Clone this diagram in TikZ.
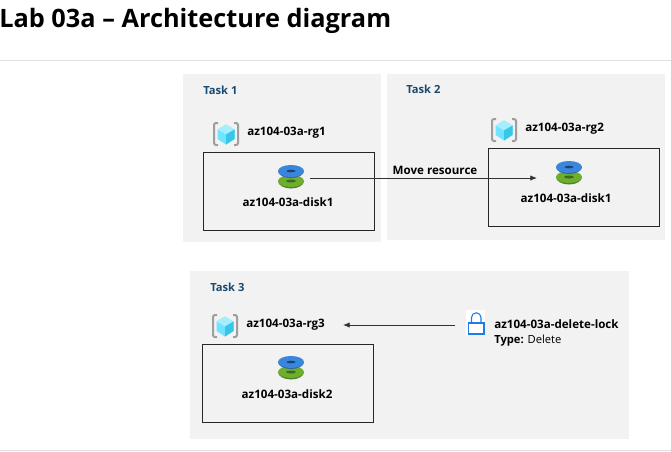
\documentclass[tikz,border=0pt]{standalone}
\usepackage{fontspec}
\setmainfont{Open Sans}
\usetikzlibrary{arrows.meta, positioning, calc}

\definecolor{panelgray}{HTML}{F2F2F2}
\definecolor{taskblue}{HTML}{1B4A70}
\definecolor{diskblue}{HTML}{3A86DC}
\definecolor{diskgreen}{HTML}{6DAE2E}
\definecolor{lockblue}{HTML}{1F7BEA}
\definecolor{cubetop}{HTML}{A4EEFF}
\definecolor{cubeleft}{HTML}{6FE3FF}
\definecolor{cuberight}{HTML}{38C6E8}

\begin{document}
\begin{tikzpicture}[
  x=0.75pt, y=-0.75pt,
  panel/.style   = {rectangle, fill=panelgray, inner sep=0pt, anchor=north west},
  resbox/.style  = {draw=black!85, rectangle, inner sep=0pt, anchor=north west,
                    line width=0.7pt,
                    minimum width=128pt, minimum height=58.5pt},
  tasklbl/.style = {font=\fontsize{8.4}{10}\selectfont\bfseries,
                    text=taskblue, inner sep=0pt, anchor=west},
  reslbl/.style  = {font=\fontsize{8.7}{10}\selectfont\bfseries,
                    text=black, inner sep=0pt},
  arr/.style     = {-{Latex[length=5pt,width=4pt]}, line width=0.6pt, draw=black!80},
  rule/.style    = {draw=black!12, line width=0.7pt},
  disk/.pic      = {
    \fill[diskgreen!75!black] (-13,4) arc[start angle=180, end angle=0, x radius=13, y radius=7.5]
       -- (13,4) -- cycle;
    \fill[diskgreen] (0,4) ellipse[x radius=13, y radius=6];
    \fill[diskgreen!60!black] (0,4) ellipse[x radius=5, y radius=1.5];
    \fill[diskblue!75!black] (-13,-6) arc[start angle=180, end angle=0, x radius=13, y radius=7]
       -- (13,-6) -- cycle;
    \fill[diskblue] (0,-6) ellipse[x radius=13, y radius=6];
    \fill[diskblue!50!black] (0,-6) ellipse[x radius=4.5, y radius=1.3];
  },
  rgicon/.pic    = {
    \draw[black!38, line width=1.5pt, rounded corners=1.5pt]
      (-8,-11) -- (-12,-11) -- (-12,11) -- (-8,11);
    \draw[black!38, line width=1.5pt, rounded corners=1.5pt]
      (8,-11) -- (12,-11) -- (12,11) -- (8,11);
    \fill[cubeleft] (0,-9.5) -- (8.5,-4.5) -- (8.5,5) -- (0,10.5) -- (-8.5,5) -- (-8.5,-4.5) -- cycle;
    \fill[cubetop] (0,-9.5) -- (8.5,-4.5) -- (0,0.5) -- (-8.5,-4.5) -- cycle;
    \fill[cuberight] (0,0.5) -- (8.5,-4.5) -- (8.5,5) -- (0,10.5) -- cycle;
  }
]
\useasboundingbox (0,0) rectangle (671,451);

% header
\node[font=\fontsize{19}{22}\selectfont\bfseries, inner sep=0pt, anchor=west]
  (title) at (-1,21) {Lab 03a – Architecture diagram};
\coordinate (rule_tl) at (0,60);
\coordinate (rule_tr) at (671,60);
\coordinate (rule_bl) at (0,450);
\coordinate (rule_br) at (671,450);
\draw[rule] (rule_tl) -- (rule_tr);
\draw[rule] (rule_bl) -- (rule_br);

% panels
\node[panel, minimum width=148.5pt, minimum height=126pt] (panel1) at (183,74) {};
\node[panel, minimum width=208.5pt, minimum height=124.5pt] (panel2) at (387,74) {};
\node[panel, minimum width=329.25pt, minimum height=126pt] (panel3) at (190,271) {};

\node[tasklbl] (task1) at (203,90) {Task 1};
\node[tasklbl] (task2) at (406,89) {Task 2};
\node[tasklbl] (task3) at (210,287) {Task 3};

% resource groups
\pic at (226,134) {rgicon};
\pic at (504,130) {rgicon};
\pic at (225,326) {rgicon};
\node[reslbl, anchor=west] (rg1) at (247,133) {az104-03a-rg1};
\node[reslbl, anchor=west] (rg2) at (525,129) {az104-03a-rg2};
\node[reslbl, anchor=west] (rg3) at (246,325) {az104-03a-rg3};

% boxes
\node[resbox] (box1) at (203,152) {};
\node[resbox] (box2) at (488,148) {};
\node[resbox] (box3) at (202,344) {};

% disks
\pic at (291,177) {disk};
\pic at (569,173) {disk};
\pic at (291,368) {disk};
\node[reslbl] (disk1) at (288,202) {az104-03a-disk1};
\node[reslbl] (disk1b) at (566,198) {az104-03a-disk1};
\node[reslbl] (disk2) at (287,394) {az104-03a-disk2};

\coordinate (move_from) at (310,178);
\coordinate (move_to) at (537,178);
\draw[arr] (move_from) -- (move_to);
\node[reslbl] (move) at (435,170) {Move resource};

% lock
\node[fill=white, inner sep=0pt, minimum width=14.5pt, minimum height=19pt] (lock) at (475.5,322.5) {};
\draw[lockblue, line width=0.8pt] (468.5,323) rectangle (484,334);
\draw[lockblue, line width=0.8pt] (471.5,323) -- (471.5,317.5) arc[start angle=180, end angle=360, radius=4.75] -- (481,323);
\node[reslbl, anchor=west] (lockname) at (494,324) {az104-03a-delete-lock};
\node[font=\fontsize{8.4}{10}\selectfont, inner sep=0pt, below=4.5pt of lockname.south west, anchor=north west]
  (locktype) {\textbf{Type:} Delete};
\coordinate (lock_from) at (455,325);
\coordinate (lock_to) at (343,325);
\draw[arr] (lock_from) -- (lock_to);

\end{tikzpicture}
\end{document}
